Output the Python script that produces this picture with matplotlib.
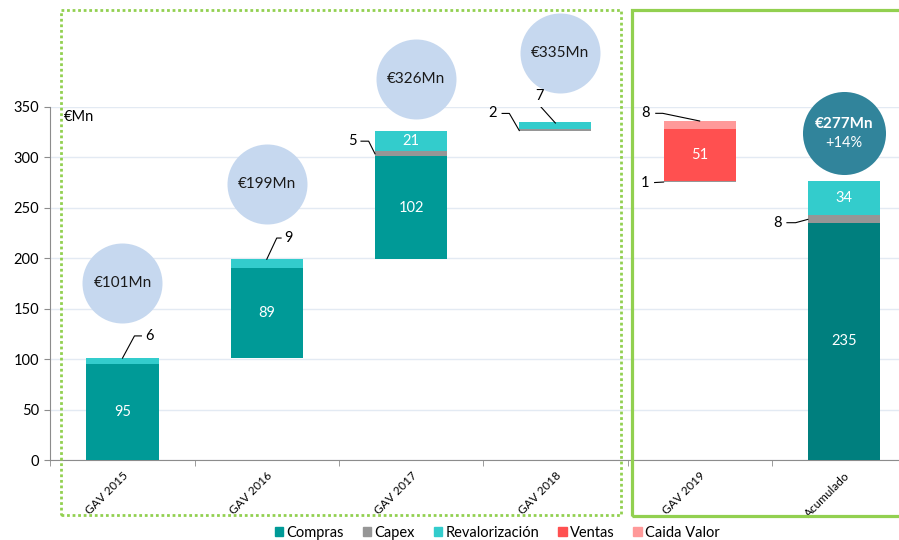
import numpy as np
import matplotlib.pyplot as plt
from matplotlib.patches import Rectangle, Patch

plt.rcParams['font.family'] = ['Lato', 'DejaVu Sans']

# Data (€Mn)
categories = ['GAV 2015', 'GAV 2016', 'GAV 2017', 'GAV 2018', 'GAV 2019', 'Acumulado']
compras = [95, 89, 102, 0, 0, 235]
capex = [0, 0, 5, 2, 1, 8]
revalorizacion = [6, 9, 21, 7, 0, 34]
ventas = [0, 0, 0, 0, 51, 0]
caida_valor = [0, 0, 0, 0, 8, 0]
gav_totals = [101, 199, 326, 335]
acumulado_total = 277
acumulado_growth = '+14%'

c_compras = '#009A97'
c_compras_acum = '#007F7E'
c_capex = '#969696'
c_reval = '#33CCCC'
c_ventas = '#FF5050'
c_caida = '#FF9999'
c_bubble = '#C6D8EF'
c_bubble_dark = '#31849B'
c_green = '#92D050'

fig = plt.figure(figsize=(8.99, 5.40), dpi=100)
ax = fig.add_axes([0.056, 0.1481, 0.963, 0.654])

x = np.arange(len(categories))
w = 0.5

def inside(xi, bottom, h, txt):
    ax.text(xi, bottom + h / 2, txt, ha='center', va='center', color='white', fontsize=10.5, zorder=5)

for i, cat in enumerate(categories):
    if cat == 'Acumulado':
        base = 0
    else:
        base = gav_totals[i - 1] if i > 0 else 0
    if ventas[i] or caida_valor[i]:
        end = gav_totals[3] + capex[i] - ventas[i] - caida_valor[i]
        ax.bar(x[i], capex[i], w, bottom=end - capex[i], color=c_capex, zorder=3)
        ax.bar(x[i], ventas[i], w, bottom=end, color=c_ventas, zorder=3)
        ax.bar(x[i], caida_valor[i], w, bottom=end + ventas[i], color=c_caida, zorder=3)
        inside(x[i], end, ventas[i], str(ventas[i]))
    else:
        col = c_compras_acum if cat == 'Acumulado' else c_compras
        b = base
        ax.bar(x[i], compras[i], w, bottom=b, color=col, zorder=3)
        if compras[i] >= 20:
            inside(x[i], b, compras[i], str(compras[i]))
        b += compras[i]
        ax.bar(x[i], capex[i], w, bottom=b, color=c_capex, zorder=3)
        b += capex[i]
        if cat == 'GAV 2017':
            h = gav_totals[i] - b
        else:
            h = revalorizacion[i]
        ax.bar(x[i], h, w, bottom=b, color=c_reval, zorder=3)
        if revalorizacion[i] >= 20:
            inside(x[i], b, h, str(revalorizacion[i]))

# leader lines for small segments
def leader(x0, y0, dx, dy, hx, txt, gap):
    x1, y1 = x0 + dx, y0 + dy
    x2 = x1 + hx
    ax.plot([x0, x1, x2], [y0, y1, y1], color='black', lw=0.8, zorder=6, clip_on=False)
    ha = 'left' if gap > 0 else 'right'
    ax.text(x2 + gap, y1, txt, ha=ha, va='center', fontsize=10.5, zorder=6)

leader(x[0], gav_totals[0], 0.083, 22, 0.048, str(revalorizacion[0]), 0.028)
leader(x[1], gav_totals[1], 0.069, 21, 0.03, str(revalorizacion[1]), 0.025)
leader(x[2] - w / 2, gav_totals[1] + compras[2] + 2.5, -0.044, 12.5, -0.053, str(capex[2]), -0.03)
leader(x[3] - w / 2, gav_totals[2] + 0.5, -0.069, 17, -0.05, str(capex[3]), -0.04)
leader(x[4], gav_totals[3] + capex[4], -0.256, 7.6, -0.048, str(caida_valor[4]), -0.04)
leader(x[4] - w / 2, acumulado_total - 1.5, -0.062, -0.5, 0, str(capex[4]), -0.035)
leader(x[5] - w / 2, compras[5] + 3.5, -0.085, -3.3, -0.06, str(capex[5]), -0.036)
# "7" label above the 2018 bar
ax.plot([x[3], x[3] - 0.11], [gav_totals[3] - 1, gav_totals[3] + 16.5], color='black', lw=0.8, zorder=6)
ax.text(x[3] - 0.11, gav_totals[3] + 19, str(revalorizacion[3]), ha='center', va='bottom', fontsize=10.5, zorder=6)

# bubbles with GAV totals
bubble_x = [x[0], x[1], x[2] + 0.033, x[3] + 0.033]
bubble_y = [175, 273.5, 378, 403.5]
ax.scatter(bubble_x, bubble_y, s=3318, color=c_bubble, linewidths=0, zorder=4, clip_on=False)
for bx, by, t in zip(bubble_x, bubble_y, gav_totals):
    ax.text(bx, by, f'€{t}Mn', ha='center', va='center', fontsize=11, color='#1A1A1A', zorder=5)
ax.scatter([x[5]], [324], s=3573, color=c_bubble_dark, linewidths=0, zorder=4, clip_on=False)
ax.annotate(f'€{acumulado_total}Mn', (x[5], 324), xytext=(0, 6.8), textcoords='offset points',
            ha='center', va='center', fontsize=11, fontweight='bold', color='white', zorder=5)
ax.annotate(acumulado_growth, (x[5], 324), xytext=(0, -6.8), textcoords='offset points',
            ha='center', va='center', fontsize=10.5, color='white', zorder=5)

ax.text(-0.405, 340, '€Mn', ha='left', va='center', fontsize=10.5)

# axes styling
ax.set_xlim(-0.5, 5.5)
ax.set_ylim(0, 350)
ax.set_yticks(range(0, 351, 50))
ax.yaxis.grid(True, color='#E3EAF3', lw=1)
ax.set_axisbelow(True)
for s in ['top', 'right']:
    ax.spines[s].set_visible(False)
for s in ['left', 'bottom']:
    ax.spines[s].set_color('#8C8C8C')
ax.set_xticks(x)
ax.set_xticklabels(categories, rotation=45, ha='right', va='top', rotation_mode='anchor', fontsize=8.5)
ax.set_xticks(np.arange(-0.5, 5.6, 1), minor=True)
ax.tick_params(axis='x', which='major', length=0, pad=7)
ax.tick_params(axis='x', which='minor', length=4, color='#8C8C8C')
ax.tick_params(axis='y', labelsize=10.5, length=4, color='#8C8C8C', pad=4)

# grouping boxes
fig.add_artist(Rectangle((61 / 899, 1 - 515 / 540), 560 / 899, 505 / 540, fill=False,
                         transform=fig.transFigure, ec=c_green, lw=2.0, ls=(0, (1, 1)), zorder=7))
fig.add_artist(Rectangle((632 / 899, 1 - 516 / 540), 300 / 899, 506 / 540, fill=False,
                         transform=fig.transFigure, ec=c_green, lw=2.3, zorder=7))

handles = [Patch(color=c_compras, label='Compras'), Patch(color=c_capex, label='Capex'),
           Patch(color=c_reval, label='Revalorización'), Patch(color=c_ventas, label='Ventas'),
           Patch(color=c_caida, label='Caida Valor')]
fig.legend(handles=handles, ncol=5, loc='lower center', bbox_to_anchor=(0.553, -0.024),
           frameon=False, fontsize=10.5, handlelength=0.6, handleheight=0.6,
           handletextpad=0.2, columnspacing=1.3)

fig.savefig('out.png', dpi=100)
